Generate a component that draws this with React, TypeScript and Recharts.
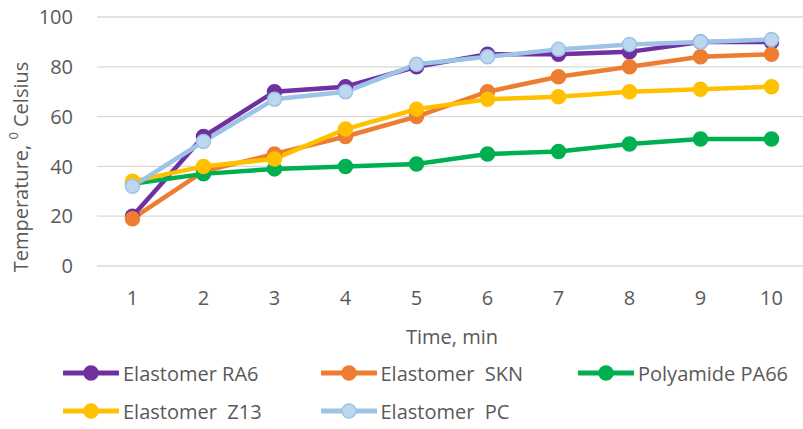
import React from 'react';
import { LineChart, Line, XAxis, YAxis, CartesianGrid, Legend, Label } from 'recharts';

const times = [1, 2, 3, 4, 5, 6, 7, 8, 9, 10];
const ra6 = [20, 52, 70, 72, 80, 85, 85, 86, 90, 90];
const skn = [19, 38, 45, 52, 60, 70, 76, 80, 84, 85];
const pa66 = [33, 37, 39, 40, 41, 45, 46, 49, 51, 51];
const z13 = [34, 40, 43, 55, 63, 67, 68, 70, 71, 72];
const pc = [32, 50, 67, 70, 81, 84, 87, 89, 90, 91];
const yTicks = [0, 20, 40, 60, 80, 100];

const series = [
  { key: 'ra6', name: 'Elastomer RA6', color: '#7030A0', dot: '#7030A0' },
  { key: 'skn', name: 'Elastomer  SKN', color: '#ED7D31', dot: '#ED7D31' },
  { key: 'pa66', name: 'Polyamide PA66', color: '#00B050', dot: '#00B050' },
  { key: 'z13', name: 'Elastomer  Z13', color: '#FFC000', dot: '#FFC000' },
  { key: 'pc', name: 'Elastomer  PC', color: '#9DC3E6', dot: '#BDD7EE' },
];

const data = times.map((t, i) => ({
  t,
  ra6: ra6[i],
  skn: skn[i],
  pa66: pa66[i],
  z13: z13[i],
  pc: pc[i],
}));

const FONT = '"Open Sans", sans-serif';
const TEXT = '#595959';

const YTitle = () => (
  <text
    x={20}
    y={167}
    transform="rotate(-90 20 167)"
    textAnchor="middle"
    dominantBaseline="central"
    fontFamily={FONT}
    fontSize={20}
    fill={TEXT}
  >
    Temperature, <tspan fontSize={13} dy={-7}>0</tspan>
    <tspan dy={7}> Celsius</tspan>
  </text>
);

const LegendBox = () => (
  <div
    style={{
      position: 'absolute',
      left: 63,
      top: 354,
      display: 'grid',
      gridTemplateColumns: 'repeat(3, 257.5px)',
      gridAutoRows: '38px',
      fontFamily: FONT,
      fontSize: 20,
      color: TEXT,
    }}
  >
    {series.map((s) => (
      <div key={s.key} style={{ display: 'flex', alignItems: 'center', whiteSpace: 'pre' }}>
        <svg width={56} height={18}>
          <line x1={1} y1={9} x2={55} y2={9} stroke={s.color} strokeWidth={5} strokeLinecap="round" />
          <circle cx={28} cy={9} r={7} fill={s.dot} stroke={s.color} strokeWidth={1.5} />
        </svg>
        <span style={{ marginLeft: 4 }}>{s.name}</span>
      </div>
    ))}
  </div>
);

export default function App() {
  return (
    <div style={{ position: 'absolute', left: 0, top: 0, width: 803, height: 429, overflow: 'hidden', background: '#fff' }}>
      <LineChart width={812} height={429} data={data} margin={{ top: 17, right: 5, bottom: 73, left: 0 }}>
        <CartesianGrid vertical={false} stroke="#D9D9D9" strokeWidth={1.3} />
        <XAxis
          dataKey="t"
          axisLine={false}
          tickLine={false}
          tickSize={0}
          tickMargin={25}
          height={90}
          padding={{ left: 35.5, right: 35.5 }}
          tick={{ fontFamily: FONT, fontSize: 20, fill: TEXT }}
        >
          <Label value="Time, min" position="insideBottom" offset={12} fontFamily={FONT} fontSize={20} fill={TEXT} />
        </XAxis>
        <YAxis
          domain={[0, 100]}
          ticks={yTicks}
          width={97}
          axisLine={false}
          tickLine={false}
          tickSize={0}
          tickMargin={24}
          tick={{ fontFamily: FONT, fontSize: 20, fill: TEXT }}
          label={<YTitle />}
        />
        <Legend
          layout="horizontal"
          verticalAlign="middle"
          align="center"
          wrapperStyle={{ top: 0, left: 0, width: 812, height: 0 }}
          content={() => <LegendBox />}
        />
        {series.map((s) => (
          <Line
            key={s.key}
            dataKey={s.key}
            name={s.name}
            type="linear"
            stroke={s.color}
            strokeWidth={4.5}
            dot={{ r: 7, fill: s.dot, stroke: s.color, strokeWidth: 1.5 }}
            isAnimationActive={false}
          />
        ))}
      </LineChart>
    </div>
  );
}
